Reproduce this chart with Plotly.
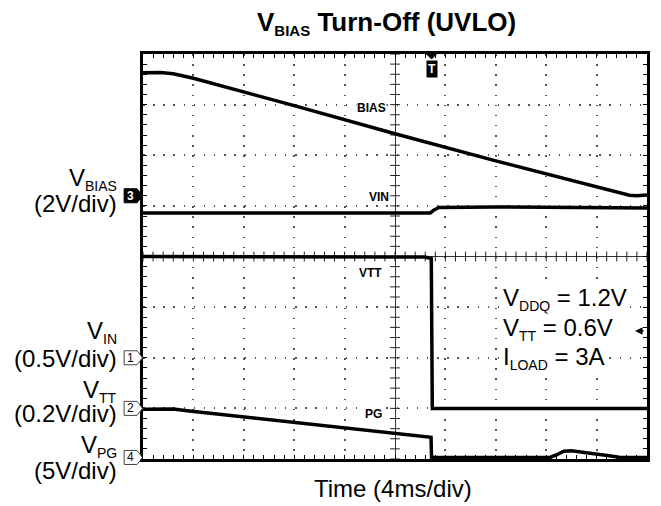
import plotly.graph_objects as go

# ---------------- data (time in ms, amplitude in volts) ----------------
bias_t = [-20, -18.6, -17.6, -16, -8, 0, 8, 14, 16.6, 18.6, 19.2, 20]
bias_v = [4.86, 4.87, 4.82, 4.64, 3.56, 2.45, 1.38, 0.62, 0.28, 0.02, 0.0, 0.03]

vin_t = [-20, 2.8, 3.1, 3.5, 8, 20]
vin_v = [1.43, 1.43, 1.46, 1.485, 1.49, 1.48]

vtt_t = [-20, 0, 2.4, 2.88, 2.9, 2.96, 20]
vtt_v = [0.600, 0.600, 0.598, 0.592, 0.10, 0.0, 0.0]

pg_t = [-20, -18.5, -17.6, -16.5, 2.86, 2.9, 12.3, 12.8, 13.4, 14.0, 15.5, 17.0, 17.9, 20]
pg_v = [4.76, 4.78, 4.78, 4.62, 1.99, 0.0, 0.0, 0.25, 0.62, 0.67, 0.45, 0.18, 0.0, 0.0]

# channel settings
ch_names = ["BIAS", "VIN", "VTT", "PG"]
ch_scale = [2.0, 0.5, 0.2, 5.0]          # volts / div
ch_offset = [1.2, -2.0, -3.0, -3.97]     # ground position, div from screen centre
ch_marker = ["3", "1", "2", "4"]

trig_t = 2.9          # trigger time (ms)
trig_level = -1.47    # trigger level (div)
time_per_div = 4      # ms/div

FONT = "Liberation Sans, Arial, Helvetica, sans-serif"

PAGE = 8              # default page margin of the html body
W, H = 653, 498
ML, MT = 135, 46
PW, PH = 507, 405
MR, MB = W - ML - PW, H - MT - PH


def px_x(px):
    """page pixel x -> paper x"""
    return (px - PAGE - ML) / PW


def px_y(py):
    """page pixel y -> paper y"""
    return (MT + PH - (py - PAGE)) / PH


def div_to_py(d):
    return PAGE + MT + (4 - d) / 8 * PH


fig = go.Figure()

# centre cross tick marks
cx = [-20 + 0.8 * k for k in range(51)]
fig.add_trace(go.Scatter(x=cx, y=[0] * len(cx), mode="markers",
                         marker=dict(symbol="line-ns", size=7, line=dict(width=1, color="#222")),
                         hoverinfo="skip", showlegend=False))
cy = [-4 + 0.2 * k for k in range(41)]
fig.add_trace(go.Scatter(x=[0] * len(cy), y=cy, mode="markers",
                         marker=dict(symbol="line-ew", size=7, line=dict(width=1, color="#222")),
                         hoverinfo="skip", showlegend=False))

series = [(bias_t, bias_v), (vin_t, vin_v), (vtt_t, vtt_v), (pg_t, pg_v)]
for (t, v), sc, off, nm in zip(series, ch_scale, ch_offset, ch_names):
    fig.add_trace(go.Scatter(x=t, y=[off + val / sc for val in v], mode="lines",
                             line=dict(color="black", width=3.5), name=nm,
                             showlegend=False, hoverinfo="skip"))

axis_common = dict(showgrid=True, gridcolor="#555", gridwidth=1.5, griddash="1.5px,8.64px",
                   zeroline=True, zerolinecolor="#333", zerolinewidth=1,
                   showline=True, linecolor="black", linewidth=2.5, mirror="ticks",
                   ticks="inside", ticklen=4, tickcolor="black", tickwidth=1,
                   showticklabels=False, fixedrange=True)

fig.update_xaxes(range=[-20, 20], dtick=time_per_div, tick0=-20,
                 minor=dict(dtick=time_per_div / 5, ticks="inside", ticklen=4,
                            tickcolor="black", showgrid=False),
                 **axis_common)
fig.update_yaxes(range=[-4, 4], dtick=1, tick0=-4,
                 minor=dict(dtick=0.2, ticks="inside", ticklen=4,
                            tickcolor="black", showgrid=False),
                 **axis_common)

ann = []
shapes = []

# title
ann.append(dict(xref="paper", yref="paper", x=px_x(256), y=px_y(23), xanchor="left", yanchor="middle",
                text="<b>V<sub><span style='font-size:15px'>BIAS</span></sub> Turn-Off (UVLO)</b>",
                showarrow=False, font=dict(family=FONT, size=26, color="black")))
# x label
ann.append(dict(xref="paper", yref="paper", x=px_x(394), y=px_y(489), xanchor="center", yanchor="middle",
                text="Time (4ms/div)", showarrow=False, font=dict(family=FONT, size=24, color="black")))

# trace labels inside the grid
lab_pos = [(-1.88, 2.94), (-1.30, 1.18), (-1.96, -0.33), (-1.74, -3.11)]
for nm, (lx, ly) in zip(ch_names, lab_pos):
    ann.append(dict(x=lx, y=ly, xref="x", yref="y", text="<b>%s</b>" % nm, showarrow=False,
                    font=dict(family=FONT, size=12, color="black"), bgcolor="white", borderpad=0,
                    xanchor="center", yanchor="middle"))

# condition block
cond = ["V<sub><span style='font-size:14px'>DDQ</span></sub> = 1.2V",
        "V<sub><span style='font-size:14px'>TT</span></sub> = 0.6V",
        "I<sub><span style='font-size:14px'>LOAD</span></sub> = 3A"]
for i, txt in enumerate(cond):
    ann.append(dict(xref="paper", yref="paper", x=px_x(504), y=px_y(299 + 29.5 * i),
                    xanchor="left", yanchor="middle", text=txt, showarrow=False,
                    bgcolor="white", borderpad=0,
                    font=dict(family=FONT, size=24, color="black")))

# channel labels at left
left_labels = [("V<sub><span style='font-size:14px'>BIAS</span></sub>", "(2V/div)", 179, 203),
               ("V<sub><span style='font-size:14px'>IN</span></sub>", "(0.5V/div)", 332, 358),
               ("V<sub><span style='font-size:14px'>TT</span></sub>", "(0.2V/div)", 391, 413),
               ("V<sub><span style='font-size:14px'>PG</span></sub>", "(5V/div)", 446, 470)]
for l1, l2, y1, y2 in left_labels:
    ann.append(dict(xref="paper", yref="paper", x=px_x(119), y=px_y(y1), xanchor="right", yanchor="middle",
                    text=l1, showarrow=False, font=dict(family=FONT, size=24, color="black")))
    ann.append(dict(xref="paper", yref="paper", x=px_x(119), y=px_y(y2), xanchor="right", yanchor="middle",
                    text=l2, showarrow=False, font=dict(family=FONT, size=24, color="black")))

# channel ground markers
for mk, off in zip(ch_marker, ch_offset):
    py = div_to_py(off)
    filled = mk == "3"
    path = "M {a},{b} L {c},{b} L {d},{e} L {c},{f} L {a},{f} Z".format(
        a=px_x(124), c=px_x(137), d=px_x(142.5), b=px_y(py - 7), e=px_y(py), f=px_y(py + 7))
    shapes.append(dict(type="path", path=path, xref="paper", yref="paper",
                       fillcolor="black" if filled else "white",
                       line=dict(color="black" if filled else "#444", width=1)))
    ann.append(dict(xref="paper", yref="paper", x=px_x(130.5), y=px_y(py), xanchor="center", yanchor="middle",
                    text="<b>%s</b>" % mk if filled else mk, showarrow=False,
                    font=dict(family=FONT, size=12, color="white" if filled else "black")))

# trigger marker at top
trig_px = PAGE + ML + (trig_t + 20) / 40 * PW
ann.append(dict(x=trig_t, y=px_y(69), xref="x", yref="paper", text="<b>T</b>", showarrow=False,
                font=dict(family=FONT, size=12, color="white"), bgcolor="black", borderpad=1,
                xanchor="center", yanchor="middle"))
shapes.append(dict(type="path", xref="paper", yref="paper",
                   path="M {a},{y0} L {b},{y0} L {c},{y1} Z".format(
                       a=px_x(trig_px - 5), b=px_x(trig_px + 5), c=px_x(trig_px),
                       y0=px_y(PAGE + MT), y1=px_y(PAGE + MT + 5)),
                   fillcolor="black", line=dict(color="black", width=1)))

# trigger level arrow at right
ann.append(dict(x=px_x(638), y=trig_level, xref="paper", yref="y", text="", showarrow=True,
                ax=10, ay=0, arrowhead=2, arrowsize=1, arrowwidth=1.5, arrowcolor="black"))

fig.update_layout(width=W, height=H, margin=dict(l=ML, r=MR, t=MT, b=MB),
                  paper_bgcolor="white", plot_bgcolor="white",
                  annotations=ann, shapes=shapes, showlegend=False,
                  font=dict(family=FONT, color="black"))

fig.write_html("out.html")
